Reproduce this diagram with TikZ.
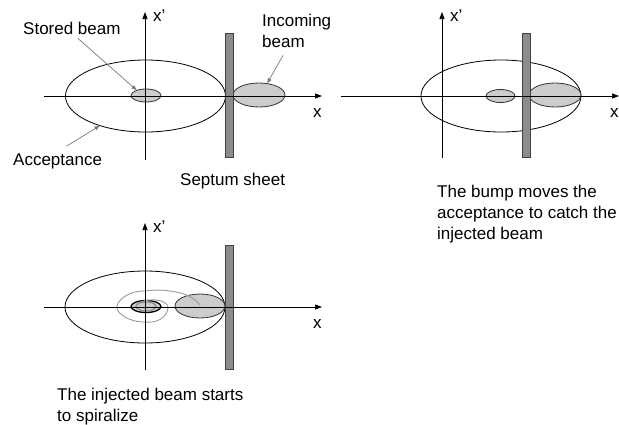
\documentclass[tikz,border=0pt]{standalone}
\usepackage{fontspec}
\setmainfont{Liberation Sans}
\usetikzlibrary{arrows.meta,shapes.geometric}
\definecolor{beamfill}{HTML}{CCCCCC}
\definecolor{sheetfill}{HTML}{8C8C8C}
\definecolor{notegray}{HTML}{7A7A7A}
\definecolor{spiralgray}{HTML}{9A9A9A}

\begin{document}
\begin{tikzpicture}[
  x=1pt,y=-1pt,
  every node/.style={font=\fontsize{17}{21}\selectfont,inner sep=0pt},
  txt/.style={anchor=base west,align=left},
  accept/.style={ellipse,draw,line width=0.8pt,minimum width=160pt,minimum height=72pt},
  spot/.style={ellipse,draw=black!80,line width=0.8pt,fill=beamfill},
  sheet/.style={rectangle,draw=black!75,line width=0.8pt,fill=sheetfill,minimum width=8pt,minimum height=124pt},
  axis/.style={-{Triangle[length=7pt,width=5pt]},line width=0.7pt},
  note/.style={-{Triangle[length=5pt,width=4pt]},draw=notegray,line width=0.7pt},
  spiral/.style={draw=spiralgray,line width=0.9pt}
]
\useasboundingbox (0,0) rectangle (619,424);

% before the bump
\node[accept] (acc1) at (145.5,96) {};
\node[spot,minimum width=30pt,minimum height=13pt] (stored1) at (146,95.5) {};
\node[spot,minimum width=52pt,minimum height=24pt] (inc1) at (259,95) {};
\node[sheet] (sept1) at (229,95) {};
\draw[axis] (44,96) -- (322,96);
\draw[axis] (145,160) -- (145,12);
\node[txt] (xp1) at (153,21) {x'};
\node[txt] (x1) at (313,117) {x};
\node[txt] (storedlbl) at (23,34) {Stored beam};
\node[txt] (inclbl) at (262,47) {Incoming\\beam};
\node[txt] (acclbl) at (13,165) {Acceptance};
\node[txt] (septlbl) at (180,185) {Septum sheet};
\draw[note] ([xshift=6pt,yshift=-4pt]storedlbl.south) -- (stored1.150);
\draw[note] ([shift={(21pt,-8pt)}]inclbl.south west) -- (inc1.55);
\draw[note] ([shift={(9pt,7pt)}]acclbl.north) -- (acc1.213);

% bump on
\node[accept] (acc2) at (501,96) {};
\node[spot,minimum width=29pt,minimum height=13pt] (stored2) at (500.5,96) {};
\node[spot,minimum width=52pt,minimum height=24pt] (inc2) at (555,95) {};
\node[sheet] (sept2) at (526,95) {};
\draw[axis] (341,96) -- (619,96);
\draw[axis] (442,158) -- (442,12);
\node[txt] (xp2) at (450,21) {x'};
\node[txt] (x2) at (610,117) {x};
\node[txt] (bumplbl) at (437,239) {The bump moves the\\acceptance to catch the\\injected beam};

% bump off, beam spiralizes
\node[accept] (acc3) at (145,307) {};
\node[spot,minimum width=50pt,minimum height=24pt] (inj3) at (200,306) {};
\node[spot,draw=black,line width=1.3pt,minimum width=30pt,minimum height=12pt] (stored3) at (146,306.5) {};
\draw[draw=black!60,line width=0.7pt] (stored3.center) ellipse (10pt and 4.5pt);
\draw[spiral] plot[smooth,tension=0.7] coordinates {(200,305) (189,296) (170,291) (150,290.5) (129,294) (117,306) (125,317) (143,322) (160,319.5) (168,308) (161,301) (146,300.5) (136,305.5) (143,311) (153,309.5) (155,306)};
\node[sheet] (sept3) at (229,307) {};
\draw[axis] (44,307) -- (322,307);
\draw[axis] (145,370) -- (145,223);
\node[txt] (xp3) at (153,232) {x'};
\node[txt] (x3) at (313,328) {x};
\node[txt] (spirallbl) at (57,421) {The injected beam starts\\to spiralize};
\end{tikzpicture}
\end{document}
